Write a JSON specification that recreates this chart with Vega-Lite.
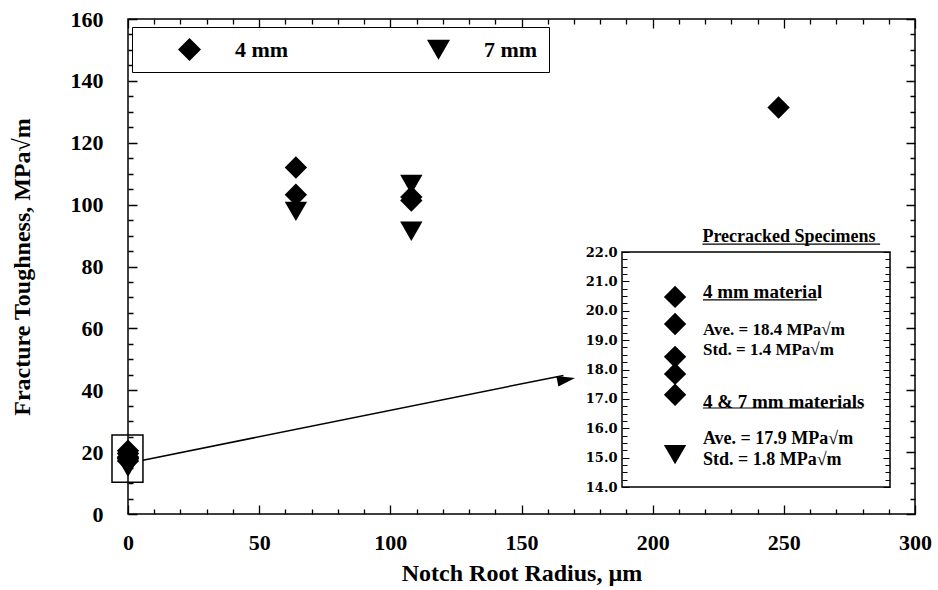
{
  "$schema": "https://vega.github.io/schema/vega-lite/v6.json",
  "width": 787,
  "height": 495,
  "autosize": {"type": "none"},
  "padding": {"left": 128, "top": 19, "right": 23, "bottom": 76},
  "background": "white",
  "config": {
    "view": {"stroke": "black", "strokeWidth": 1.5},
    "font": "Liberation Serif",
    "axis": {
      "grid": false,
      "domain": false,
      "labelFont": "Liberation Serif",
      "labelFontWeight": "bold",
      "labelColor": "black",
      "labelFlush": false,
      "labelOverlap": false,
      "titleFont": "Liberation Serif",
      "titleFontWeight": "bold",
      "titleColor": "black"
    },
    "legend": {
      "orient": "none",
      "legendX": 4,
      "legendY": 8,
      "direction": "horizontal",
      "strokeColor": "black",
      "fillColor": "white",
      "padding": 11,
      "symbolSize": 529,
      "symbolFillColor": "black",
      "symbolStrokeWidth": 0,
      "labelFont": "Liberation Serif",
      "labelFontWeight": "bold",
      "labelFontSize": 22,
      "labelColor": "black",
      "labelOffset": 34,
      "symbolOffset": 35,
      "columnPadding": 103
    }
  },
  "datasets": {
    "main": [
      {"radius": 0, "toughness": 20.47, "material": "4 mm"},
      {"radius": 0, "toughness": 19.55, "material": "4 mm"},
      {"radius": 0, "toughness": 18.43, "material": "4 mm"},
      {"radius": 0, "toughness": 17.85, "material": "4 mm"},
      {"radius": 0, "toughness": 17.14, "material": "4 mm"},
      {"radius": 0, "toughness": 15.1, "material": "7 mm"},
      {"radius": 64, "toughness": 112, "material": "4 mm"},
      {"radius": 64, "toughness": 103.2, "material": "4 mm"},
      {"radius": 64, "toughness": 97.8, "material": "7 mm"},
      {"radius": 108, "toughness": 106.5, "material": "7 mm"},
      {"radius": 108, "toughness": 102.5, "material": "4 mm"},
      {"radius": 108, "toughness": 101.3, "material": "4 mm"},
      {"radius": 108, "toughness": 91.4, "material": "7 mm"},
      {"radius": 248, "toughness": 131.4, "material": "4 mm"}
    ]
  },
  "layer": [
    {
      "layer": [
        {
          "data": {"values": [{}]},
          "mark": {"type": "rect", "fillOpacity": 0, "stroke": "black", "strokeWidth": 1.5},
          "encoding": {
            "x": {"datum": -6.1, "type": "quantitative", "scale": {"domain": [0, 300], "nice": false, "zero": false}, "axis": null},
            "x2": {"datum": 5.7},
            "y": {"datum": 10.3, "type": "quantitative", "scale": {"domain": [0, 160], "nice": false, "zero": false}, "axis": null},
            "y2": {"datum": 25.5}
          }
        },
        {
          "data": {"values": [{}]},
          "mark": {"type": "rule", "color": "black", "strokeWidth": 1.5},
          "encoding": {
            "x": {"datum": 5.7, "type": "quantitative", "scale": {"domain": [0, 300], "nice": false, "zero": false}, "axis": null},
            "x2": {"datum": 166},
            "y": {"datum": 17.4, "type": "quantitative", "scale": {"domain": [0, 160], "nice": false, "zero": false}, "axis": null},
            "y2": {"datum": 44.8}
          }
        },
        {
          "data": {"values": [{}]},
          "mark": {"type": "point", "shape": "M0,0L-1,-0.3L-1,0.3Z", "filled": true, "color": "black", "opacity": 1, "size": 1296, "angle": 349},
          "encoding": {
            "x": {"datum": 170.4, "type": "quantitative", "scale": {"domain": [0, 300], "nice": false, "zero": false}, "axis": null},
            "y": {"datum": 44.0, "type": "quantitative", "scale": {"domain": [0, 160], "nice": false, "zero": false}, "axis": null}
          }
        },
        {
          "data": {"name": "main"},
          "mark": {"type": "point", "filled": true, "color": "black", "opacity": 1, "size": 500},
          "encoding": {
            "x": {"field": "radius", "type": "quantitative", "scale": {"domain": [0, 300], "nice": false, "zero": false},
              "axis": {"orient": "bottom",
                "values": [0,10,20,30,40,50,60,70,80,90,100,110,120,130,140,150,160,170,180,190,200,210,220,230,240,250,260,270,280,290,300],
                "labelExpr": "datum.value % 50 === 0 ? datum.label : ''",
                "ticks": false, "labelPadding": 18, "labelFontSize": 22,
                "grid": true, "gridColor": "black", "gridOpacity": 1, "gridWidth": 1.3,
                "gridDash": {"condition": {"test": "datum.value % 50 === 0", "value": [9, 477, 9, 2000]}, "value": [5, 485, 5, 2000]},
                "title": "Notch Root Radius, µm", "titleFontSize": 24, "titlePadding": 8}},
            "y": {"field": "toughness", "type": "quantitative", "scale": {"domain": [0, 160], "nice": false, "zero": false},
              "axis": {"orient": "left",
                "values": [0,5,10,15,20,25,30,35,40,45,50,55,60,65,70,75,80,85,90,95,100,105,110,115,120,125,130,135,140,145,150,155,160],
                "labelExpr": "datum.value % 20 === 0 ? datum.label : ''",
                "ticks": false, "labelPadding": 25, "labelFontSize": 22,
                "grid": true, "gridColor": "black", "gridOpacity": 1, "gridWidth": 1.3,
                "gridDash": {"condition": {"test": "datum.value % 20 === 0", "value": [9, 769, 9, 2000]}, "value": [5, 777, 5, 2000]},
                "title": "Fracture Toughness, MPa√m", "titleFontSize": 24, "titlePadding": 36}},
            "shape": {"field": "material", "type": "nominal", "scale": {"domain": ["4 mm", "7 mm"], "range": ["diamond", "triangle-down"]},
              "legend": {"title": null}}
          }
        }
      ],
      "resolve": {"axis": {"x": "independent", "y": "independent"}}
    },
    {
      "layer": [
        {
          "data": {"values": [{}]},
          "mark": {"type": "rect", "fill": "white", "stroke": "black", "strokeWidth": 1.5},
          "encoding": {
            "x": {"datum": 0, "type": "quantitative", "scale": {"domain": [0, 1], "range": [494, 762], "nice": false, "zero": false}, "axis": null},
            "x2": {"datum": 1},
            "y": {"datum": 14, "type": "quantitative", "scale": {"domain": [14, 22], "range": [468, 233], "nice": false, "zero": false},
              "axis": {"orient": "left", "offset": -494,
                "values": [14,14.25,14.5,14.75,15,15.25,15.5,15.75,16,16.25,16.5,16.75,17,17.25,17.5,17.75,18,18.25,18.5,18.75,19,19.25,19.5,19.75,20,20.25,20.5,20.75,21,21.25,21.5,21.75,22],
                "format": ".1f",
                "labelExpr": "datum.value % 1 === 0 ? datum.label : ''",
                "ticks": false,
                "grid": true, "gridColor": "black", "gridOpacity": 1, "gridWidth": 1.2, "zindex": 1,
                "gridDash": {"condition": {"test": "datum.value % 1 === 0", "value": [7, 254, 7, 2000]}, "value": [5, 258, 5, 2000]},
                "labelFont": "DejaVu Serif", "labelFontSize": 13, "labelPadding": 5, "title": null}},
            "y2": {"datum": 22}
          }
        },
        {
          "data": {"name": "main"},
          "transform": [{"filter": "datum.radius == 0"}],
          "mark": {"type": "point", "filled": true, "color": "black", "opacity": 1, "size": 500},
          "encoding": {
            "x": {"datum": 0.198, "type": "quantitative", "scale": {"domain": [0, 1], "range": [494, 762], "nice": false, "zero": false}, "axis": null},
            "y": {"field": "toughness", "type": "quantitative", "scale": {"domain": [14, 22], "range": [468, 233], "nice": false, "zero": false}, "axis": null},
            "shape": {"field": "material", "type": "nominal", "scale": {"domain": ["4 mm", "7 mm"], "range": ["diamond", "triangle-down"]}}
          }
        },
        {
          "data": {"values": [{}]},
          "mark": {"type": "text", "text": "Precracked Specimens", "align": "left", "baseline": "middle", "font": "Liberation Serif", "fontWeight": "bold", "fontSize": 18, "color": "black"},
          "encoding": {
            "x": {"datum": 0.3, "type": "quantitative", "scale": {"domain": [0, 1], "range": [494, 762], "nice": false, "zero": false}, "axis": null},
            "y": {"datum": 22.51, "type": "quantitative", "scale": {"domain": [14, 22], "range": [468, 233], "nice": false, "zero": false}, "axis": null}
          }
        },
        {
          "data": {"values": [{}]},
          "mark": {"type": "text", "text": "4 mm material", "align": "left", "baseline": "middle", "font": "Liberation Serif", "fontWeight": "bold", "fontSize": 19, "color": "black"},
          "encoding": {
            "x": {"datum": 0.302, "type": "quantitative", "scale": {"domain": [0, 1], "range": [494, 762], "nice": false, "zero": false}, "axis": null},
            "y": {"datum": 20.64, "type": "quantitative", "scale": {"domain": [14, 22], "range": [468, 233], "nice": false, "zero": false}, "axis": null}
          }
        },
        {
          "data": {"values": [{}]},
          "mark": {"type": "text", "text": ["Ave. = 18.4 MPa√m", "Std. = 1.4 MPa√m"], "lineHeight": 20, "align": "left", "baseline": "middle", "font": "Liberation Serif", "fontWeight": "bold", "fontSize": 17, "color": "black"},
          "encoding": {
            "x": {"datum": 0.302, "type": "quantitative", "scale": {"domain": [0, 1], "range": [494, 762], "nice": false, "zero": false}, "axis": null},
            "y": {"datum": 19.36, "type": "quantitative", "scale": {"domain": [14, 22], "range": [468, 233], "nice": false, "zero": false}, "axis": null}
          }
        },
        {
          "data": {"values": [{}]},
          "mark": {"type": "text", "text": "4 & 7 mm materials", "align": "left", "baseline": "middle", "font": "Liberation Serif", "fontWeight": "bold", "fontSize": 19, "color": "black"},
          "encoding": {
            "x": {"datum": 0.302, "type": "quantitative", "scale": {"domain": [0, 1], "range": [494, 762], "nice": false, "zero": false}, "axis": null},
            "y": {"datum": 16.89, "type": "quantitative", "scale": {"domain": [14, 22], "range": [468, 233], "nice": false, "zero": false}, "axis": null}
          }
        },
        {
          "data": {"values": [{}]},
          "mark": {"type": "text", "text": ["Ave. = 17.9 MPa√m", "Std. = 1.8 MPa√m"], "lineHeight": 21, "align": "left", "baseline": "middle", "font": "Liberation Serif", "fontWeight": "bold", "fontSize": 18, "color": "black"},
          "encoding": {
            "x": {"datum": 0.302, "type": "quantitative", "scale": {"domain": [0, 1], "range": [494, 762], "nice": false, "zero": false}, "axis": null},
            "y": {"datum": 15.63, "type": "quantitative", "scale": {"domain": [14, 22], "range": [468, 233], "nice": false, "zero": false}, "axis": null}
          }
        },
        {
          "data": {"values": [{}]},
          "mark": {"type": "rule", "color": "black", "strokeWidth": 1.2},
          "encoding": {
            "x": {"datum": 0.3, "type": "quantitative", "scale": {"domain": [0, 1], "range": [494, 762], "nice": false, "zero": false}, "axis": null},
            "x2": {"datum": 0.963},
            "y": {"datum": 22.27, "type": "quantitative", "scale": {"domain": [14, 22], "range": [468, 233], "nice": false, "zero": false}, "axis": null}
          }
        },
        {
          "data": {"values": [{}]},
          "mark": {"type": "rule", "color": "black", "strokeWidth": 1.2},
          "encoding": {
            "x": {"datum": 0.302, "type": "quantitative", "scale": {"domain": [0, 1], "range": [494, 762], "nice": false, "zero": false}, "axis": null},
            "x2": {"datum": 0.728},
            "y": {"datum": 20.37, "type": "quantitative", "scale": {"domain": [14, 22], "range": [468, 233], "nice": false, "zero": false}, "axis": null}
          }
        },
        {
          "data": {"values": [{}]},
          "mark": {"type": "rule", "color": "black", "strokeWidth": 1.2},
          "encoding": {
            "x": {"datum": 0.302, "type": "quantitative", "scale": {"domain": [0, 1], "range": [494, 762], "nice": false, "zero": false}, "axis": null},
            "x2": {"datum": 0.896},
            "y": {"datum": 16.69, "type": "quantitative", "scale": {"domain": [14, 22], "range": [468, 233], "nice": false, "zero": false}, "axis": null}
          }
        }
      ],
      "resolve": {"axis": {"x": "independent", "y": "independent"}}
    }
  ],
  "resolve": {"scale": {"x": "independent", "y": "independent"}}
}
